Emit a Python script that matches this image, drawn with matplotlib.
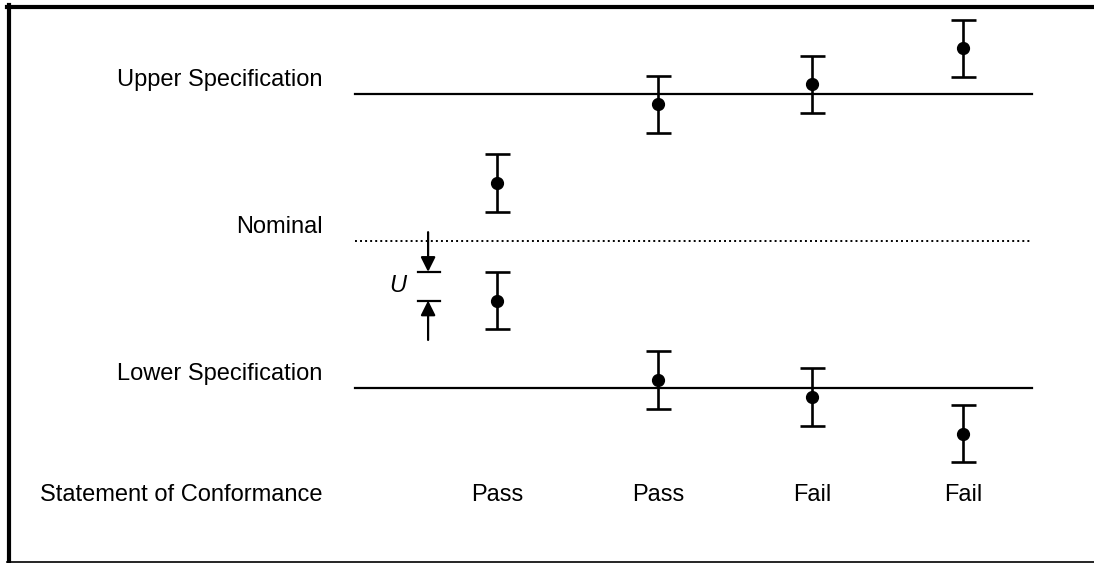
import matplotlib
matplotlib.use("Agg")
import matplotlib.pyplot as plt
from matplotlib.lines import Line2D

plt.rcParams['font.family'] = ['Liberation Sans', 'DejaVu Sans']

# spec limits (nominal = 0)
upper_spec = 1.0
lower_spec = -1.0
nominal = 0.0
U = 0.195

# measured results, one column per case
cols = [0, 1.036, 2.028, 3.0]
upper_meas = [0.395, 0.93, 1.065, 1.31]
lower_meas = [-0.405, -0.945, -1.06, -1.31]
verdicts = ['Pass', 'Pass', 'Fail', 'Fail']

row_labels = ['Upper Specification', 'Nominal', 'Lower Specification',
              'Statement of Conformance']

fig = plt.figure(figsize=(10.94, 5.63), dpi=100)
ax = fig.add_axes([0, 0, 1, 1])
ax.set_xlim(-3.2, 3.843)
ax.set_ylim(-2.19, 1.639)
ax.axis('off')

fs = 17
x0, x1 = -0.914, 3.444
ax.plot([x0, x1], [upper_spec, upper_spec], color='black', lw=1.6)
ax.plot([x0, x1], [lower_spec, lower_spec], color='black', lw=1.6)
ax.plot([x0, x1], [nominal, nominal], color='black', lw=1.4,
        linestyle=(0, (1, 1.6)))

for ys in (upper_meas, lower_meas):
    ax.errorbar(cols, ys, yerr=U, fmt='o', color='black', ms=8.5,
                elinewidth=1.9, capsize=9, capthick=1.9)

#row labels on the left
lx = -1.125
ax.text(lx, upper_spec + 0.095, row_labels[0], ha='right', va='center', fontsize=fs)
ax.text(lx, nominal + 0.095, row_labels[1], ha='right', va='center', fontsize=fs)
ax.text(lx, lower_spec + 0.095, row_labels[2], ha='right', va='center', fontsize=fs)
ax.text(lx, -1.728, row_labels[3], ha='right', va='center', fontsize=fs)

for c, v in zip(cols, verdicts):
    ax.text(c, -1.728, v, ha='center', va='center', fontsize=fs)

#U indicator
ux = -0.444
y_top = lower_meas[0] + U
y_bot = lower_meas[0]
ax.plot([ux - 0.066, ux + 0.076], [y_top, y_top], color='black', lw=1.6)
ax.plot([ux - 0.066, ux + 0.076], [y_bot, y_bot], color='black', lw=1.6)
arr = dict(arrowstyle='-|>', color='black', lw=1.6, mutation_scale=22,
           shrinkA=0, shrinkB=0)
ax.annotate('', xy=(ux, y_top), xytext=(ux, 0.06), arrowprops=arr)
ax.annotate('', xy=(ux, y_bot), xytext=(ux, -0.673), arrowprops=arr)
ax.text(-0.64, -0.306, 'U', style='italic', ha='center', va='center', fontsize=fs)

#frame around the picture
fig.add_artist(Line2D([0.0082, 0.0082], [0, 0.992], color='black', lw=3,
                      transform=fig.transFigure))
fig.add_artist(Line2D([0.0068, 1], [0.9875, 0.9875], color='black', lw=3,
                      transform=fig.transFigure))
fig.add_artist(Line2D([0.0068, 1], [0.0015, 0.0015], color='black', lw=1.2,
                      transform=fig.transFigure))

fig.savefig('out.png', dpi=100)
